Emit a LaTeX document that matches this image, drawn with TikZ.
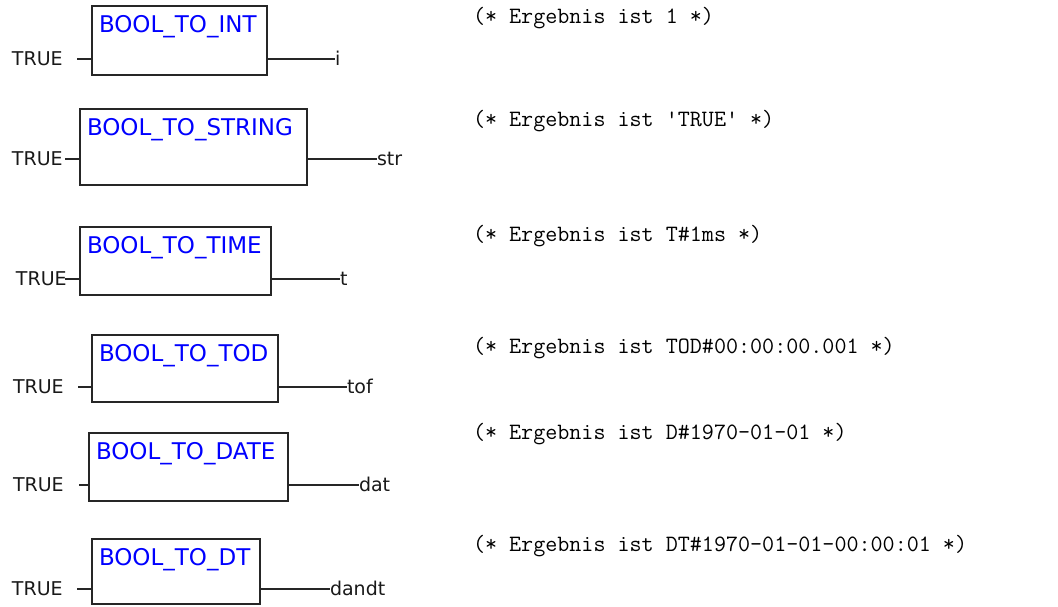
\documentclass[tikz,border=0pt]{standalone}
\usepackage{fontspec}
\newfontfamily\guifont{DejaVu Sans}
\setmonofont{Latin Modern Mono}
\definecolor{fbdblue}{RGB}{0,0,255}
\begin{document}
\begin{tikzpicture}[
        x=1pt, y=-1pt,
        every node/.style={inner sep=0pt, outer sep=0pt},
        fblock/.style={draw=black!85, line width=1.8pt, anchor=north west},
        fbname/.style={anchor=base west, text=fbdblue, font=\guifont\fontsize{23}{26}\selectfont},
        sig/.style={anchor=base west, text=black!90, font=\guifont\fontsize{19}{22}\selectfont},
        wire/.style={draw=black!85, line width=1.4pt},
        comment/.style={anchor=base west, font=\ttfamily\fontsize{23.4}{26}\selectfont}
    ]
    \useasboundingbox (0,0) rectangle (1058,606);

    % BOOL_TO_INT
    \node[fblock, minimum width=175pt, minimum height=69pt] (b1) at (92,6) {};
    \node[fbname] (n1) at ([shift={(7,26)}]b1.north west) {BOOL\_TO\_INT};
    \coordinate (p1) at (77,59);
    \node[sig] (in1) at (12,65) {TRUE};
    \node[sig] (out1) at (335,65) {i};
    \draw[wire] (p1) -- (p1 -| b1.west);
    \draw[wire] (p1 -| b1.east) -- (p1 -| out1.west);
    \node[comment] (c1) at (473,23) {(* Ergebnis ist 1 *)};

    % BOOL_TO_STRING
    \node[fblock, minimum width=227pt, minimum height=76pt] (b2) at (80,109) {};
    \node[fbname] (n2) at ([shift={(7,26)}]b2.north west) {BOOL\_TO\_STRING};
    \coordinate (p2) at (65,159);
    \node[sig] (in2) at (12,165) {TRUE};
    \node[sig] (out2) at (377,165) {str};
    \draw[wire] (p2) -- (p2 -| b2.west);
    \draw[wire] (p2 -| b2.east) -- (p2 -| out2.west);
    \node[comment] (c2) at (473,126) {(* Ergebnis ist 'TRUE' *)};

    % BOOL_TO_TIME
    \node[fblock, minimum width=191pt, minimum height=68pt] (b3) at (80,227) {};
    \node[fbname] (n3) at ([shift={(7,26)}]b3.north west) {BOOL\_TO\_TIME};
    \coordinate (p3) at (65,279);
    \node[sig] (in3) at (16,285) {TRUE};
    \node[sig] (out3) at (340,285) {t};
    \draw[wire] (p3) -- (p3 -| b3.west);
    \draw[wire] (p3 -| b3.east) -- (p3 -| out3.west);
    \node[comment] (c3) at (473,241) {(* Ergebnis ist T\#1ms *)};

    % BOOL_TO_TOD
    \node[fblock, minimum width=186pt, minimum height=67pt] (b4) at (92,335) {};
    \node[fbname] (n4) at ([shift={(7,26)}]b4.north west) {BOOL\_TO\_TOD};
    \coordinate (p4) at (78,387);
    \node[sig] (in4) at (13,393) {TRUE};
    \node[sig] (out4) at (347,393) {tof};
    \draw[wire] (p4) -- (p4 -| b4.west);
    \draw[wire] (p4 -| b4.east) -- (p4 -| out4.west);
    \node[comment] (c4) at (473,353) {(* Ergebnis ist TOD\#00:00:00.001 *)};

    % BOOL_TO_DATE
    \node[fblock, minimum width=199pt, minimum height=68pt] (b5) at (89,433) {};
    \node[fbname] (n5) at ([shift={(7,26)}]b5.north west) {BOOL\_TO\_DATE};
    \coordinate (p5) at (79,485);
    \node[sig] (in5) at (13,491) {TRUE};
    \node[sig] (out5) at (359,491) {dat};
    \draw[wire] (p5) -- (p5 -| b5.west);
    \draw[wire] (p5 -| b5.east) -- (p5 -| out5.west);
    \node[comment] (c5) at (473,439) {(* Ergebnis ist D\#1970-01-01 *)};

    % BOOL_TO_DT
    \node[fblock, minimum width=168pt, minimum height=65pt] (b6) at (92,539) {};
    \node[fbname] (n6) at ([shift={(7,26)}]b6.north west) {BOOL\_TO\_DT};
    \coordinate (p6) at (77,589);
    \node[sig] (in6) at (12,595) {TRUE};
    \node[sig] (out6) at (330,595) {dandt};
    \draw[wire] (p6) -- (p6 -| b6.west);
    \draw[wire] (p6 -| b6.east) -- (p6 -| out6.west);
    \node[comment] (c6) at (473,551) {(* Ergebnis ist DT\#1970-01-01-00:00:01 *)};
\end{tikzpicture}
\end{document}
